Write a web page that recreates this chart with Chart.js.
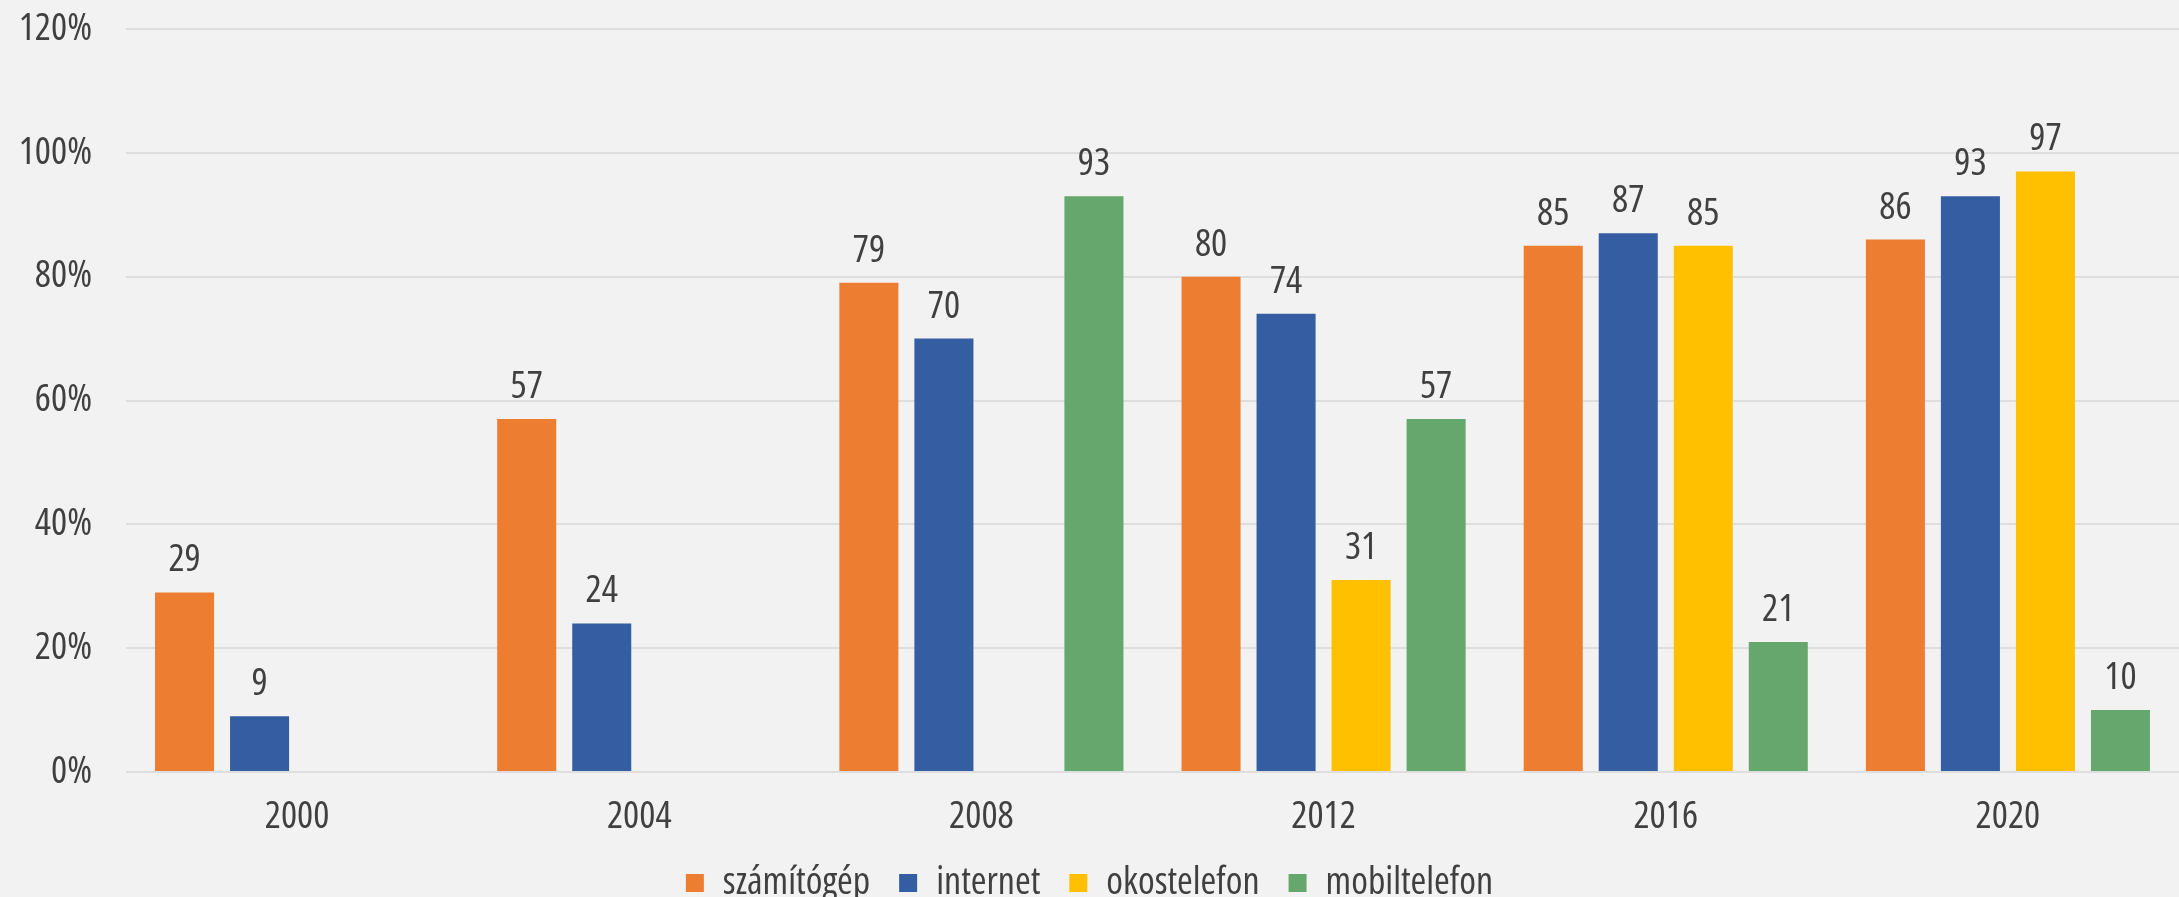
<!DOCTYPE html>
<html>
<head>
<meta charset="utf-8">
<script src="https://cdn.jsdelivr.net/npm/chart.js@4"></script>
<style>
  html, body { margin: 0; padding: 0; background: #f2f2f2; }
  #wrap { width: 2179px; height: 897px; position: relative; }
</style>
</head>
<body>
<div id="wrap"><canvas id="chart"></canvas></div>
<script>
var years = ['2000', '2004', '2008', '2012', '2016', '2020'];
var seriesNames = ['számítógép', 'internet', 'okostelefon', 'mobiltelefon'];
var szamitogep = [29, 57, 79, 80, 85, 86];
var internet = [9, 24, 70, 74, 87, 93];
var okostelefon = [null, null, null, 31, 85, 97];
var mobiltelefon = [null, null, 93, 57, 21, 10];
var yTicks = [0, 20, 40, 60, 80, 100, 120];

var colors = ['#ed7d31', '#355da1', '#ffc000', '#66a76d'];
var textColor = '#404040';
// narrow look: Open Sans squeezed through its width axis
var narrow = { family: "'Open Sans'", weight: 'condensed', size: 38 };

// values above each bar
var barLabels = {
    id: 'barLabels',
    afterDatasetsDraw: function (chart) {
        var ctx = chart.ctx;
        ctx.save();
        ctx.font = "condensed 38px 'Open Sans'";
        ctx.fillStyle = textColor;
        ctx.textAlign = 'center';
        ctx.textBaseline = 'alphabetic';
        chart.data.datasets.forEach(function (ds, i) {
            var meta = chart.getDatasetMeta(i);
            meta.data.forEach(function (bar, j) {
                var v = ds.data[j];
                if (v === null) return;
                ctx.fillText(String(v), bar.x, bar.y - 21);
            });
        });
        ctx.restore();
    }
};

var allSeries = [szamitogep, internet, okostelefon, mobiltelefon];

var ctx = document.getElementById('chart').getContext('2d');
var chart = new Chart(ctx, {
    type: 'bar',
    data: {
        labels: years,
        datasets: allSeries.map(function (vals, i) {
            return {
                label: seriesNames[i],
                data: vals,
                backgroundColor: colors[i],
                borderWidth: 0,
                categoryPercentage: 0.877,
                barPercentage: 0.787
            };
        })
    },
    options: {
        responsive: true,
        maintainAspectRatio: false,
        animation: false,
        layout: { padding: { top: 29, right: 0, bottom: -15, left: 0 } },
        plugins: {
            legend: {
                position: 'bottom',
                labels: {
                    boxWidth: 18,
                    boxHeight: 18,
                    padding: 29,
                    color: textColor,
                    font: narrow
                }
            },
            tooltip: { enabled: false }
        },
        scales: {
            x: {
                grid: { display: false, drawTicks: false },
                border: { display: false },
                afterFit: function (axis) { axis.height = 63; },
                ticks: { color: textColor, padding: 22, font: narrow }
            },
            y: {
                min: 0,
                max: 120,
                afterBuildTicks: function (axis) {
                    axis.ticks = yTicks.map(function (v) { return { value: v }; });
                },
                afterFit: function (axis) {
                    axis.width = 126;
                    axis.paddingTop = 0;
                    axis.paddingBottom = 0;
                },
                grid: { color: '#dedede', lineWidth: 2, drawTicks: false },
                border: { display: false },
                ticks: {
                    color: textColor,
                    padding: 34,
                    font: narrow,
                    callback: function (v) { return v + '%'; }
                }
            }
        }
    },
    plugins: [barLabels]
});
</script>
</body>
</html>
